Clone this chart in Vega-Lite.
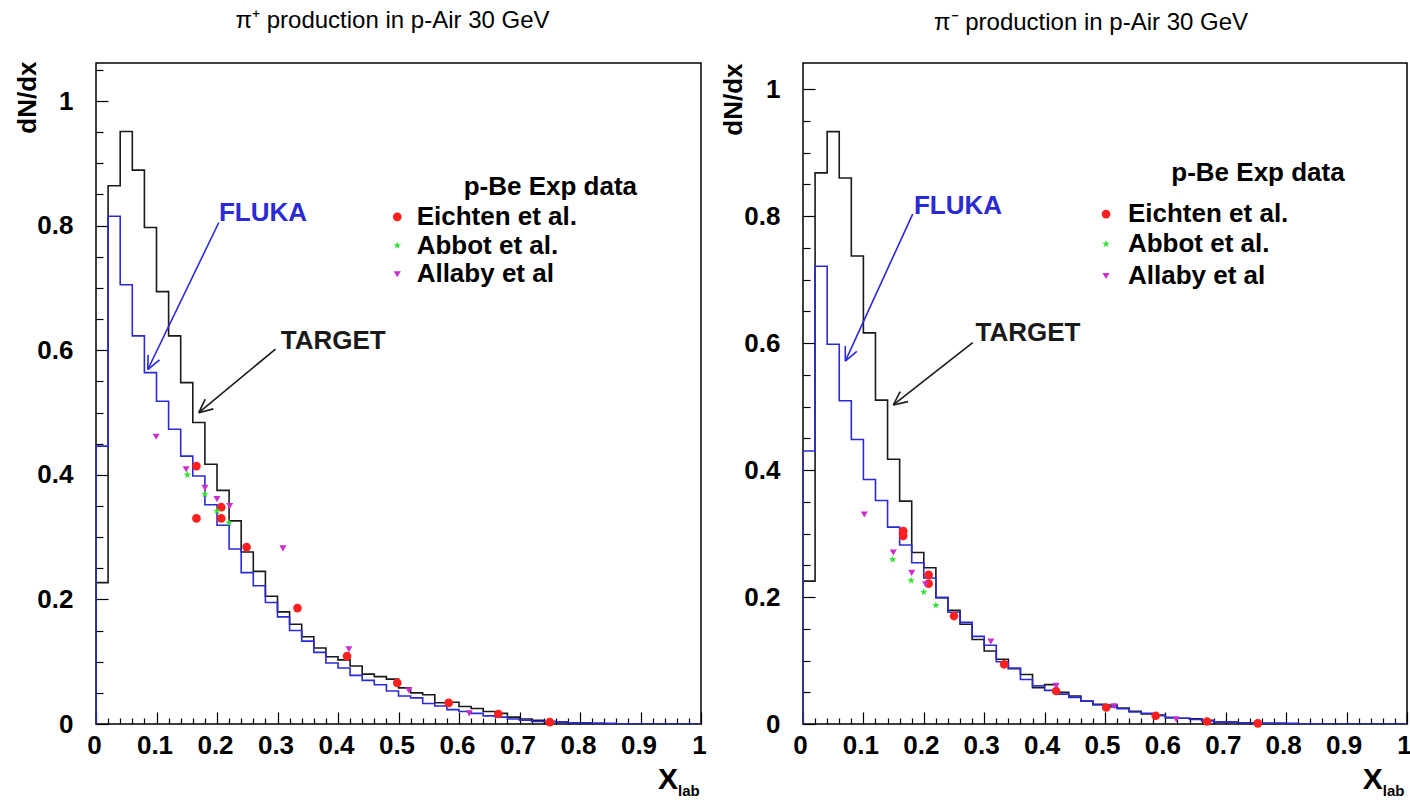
{
"$schema": "https://vega.github.io/schema/vega-lite/v6.json",
"background": "white",
"padding": {"left": 13, "top": 8, "right": 5, "bottom": 5},
"bounds": "flush",
"spacing": 102,
"config": {
  "font": "Liberation Sans",
  "view": {"stroke": "#000", "strokeWidth": 1.5},
  "axis": {"labelFont": "Liberation Sans", "labelFontWeight": "bold", "labelFontSize": 26, "labelColor": "#000", "tickColor": "#000", "tickWidth": 1.2, "grid": false, "titleFont": "Liberation Sans", "titleFontWeight": "bold", "titleFontSize": 26, "titleColor": "#000"},
  "title": {"font": "Liberation Sans", "fontSize": 24, "fontWeight": "normal", "color": "#000", "offset": 28}
},
"datasets": {
  "hist": [
    {"p":"L","s":"TARGET","x":0,"y":0},{"p":"L","s":"TARGET","x":0,"y":0.227},{"p":"L","s":"TARGET","x":0.02,"y":0.864},{"p":"L","s":"TARGET","x":0.04,"y":0.951},{"p":"L","s":"TARGET","x":0.06,"y":0.889},{"p":"L","s":"TARGET","x":0.08,"y":0.797},{"p":"L","s":"TARGET","x":0.10,"y":0.694},{"p":"L","s":"TARGET","x":0.12,"y":0.623},{"p":"L","s":"TARGET","x":0.14,"y":0.548},{"p":"L","s":"TARGET","x":0.16,"y":0.484},{"p":"L","s":"TARGET","x":0.18,"y":0.417},{"p":"L","s":"TARGET","x":0.20,"y":0.375},{"p":"L","s":"TARGET","x":0.22,"y":0.326},{"p":"L","s":"TARGET","x":0.24,"y":0.276},{"p":"L","s":"TARGET","x":0.26,"y":0.245},{"p":"L","s":"TARGET","x":0.28,"y":0.205},{"p":"L","s":"TARGET","x":0.30,"y":0.180},{"p":"L","s":"TARGET","x":0.32,"y":0.160},{"p":"L","s":"TARGET","x":0.34,"y":0.140},{"p":"L","s":"TARGET","x":0.36,"y":0.122},{"p":"L","s":"TARGET","x":0.38,"y":0.108},{"p":"L","s":"TARGET","x":0.40,"y":0.103},{"p":"L","s":"TARGET","x":0.42,"y":0.093},{"p":"L","s":"TARGET","x":0.44,"y":0.080},{"p":"L","s":"TARGET","x":0.46,"y":0.076},{"p":"L","s":"TARGET","x":0.48,"y":0.072},{"p":"L","s":"TARGET","x":0.50,"y":0.058},{"p":"L","s":"TARGET","x":0.52,"y":0.050},{"p":"L","s":"TARGET","x":0.54,"y":0.047},{"p":"L","s":"TARGET","x":0.56,"y":0.034},{"p":"L","s":"TARGET","x":0.58,"y":0.035},{"p":"L","s":"TARGET","x":0.60,"y":0.028},{"p":"L","s":"TARGET","x":0.62,"y":0.025},{"p":"L","s":"TARGET","x":0.64,"y":0.020},{"p":"L","s":"TARGET","x":0.66,"y":0.017},{"p":"L","s":"TARGET","x":0.68,"y":0.011},{"p":"L","s":"TARGET","x":0.70,"y":0.008},{"p":"L","s":"TARGET","x":0.72,"y":0.006},{"p":"L","s":"TARGET","x":0.74,"y":0.004},{"p":"L","s":"TARGET","x":0.76,"y":0.003},{"p":"L","s":"TARGET","x":0.78,"y":0.002},{"p":"L","s":"TARGET","x":0.80,"y":0.001},{"p":"L","s":"TARGET","x":0.82,"y":0.001},{"p":"L","s":"TARGET","x":0.84,"y":0.0005},{"p":"L","s":"TARGET","x":0.86,"y":0},{"p":"L","s":"TARGET","x":1,"y":0},
    {"p":"L","s":"FLUKA","x":0,"y":0},{"p":"L","s":"FLUKA","x":0,"y":0.446},{"p":"L","s":"FLUKA","x":0.02,"y":0.815},{"p":"L","s":"FLUKA","x":0.04,"y":0.705},{"p":"L","s":"FLUKA","x":0.06,"y":0.623},{"p":"L","s":"FLUKA","x":0.08,"y":0.564},{"p":"L","s":"FLUKA","x":0.10,"y":0.518},{"p":"L","s":"FLUKA","x":0.12,"y":0.473},{"p":"L","s":"FLUKA","x":0.14,"y":0.430},{"p":"L","s":"FLUKA","x":0.16,"y":0.398},{"p":"L","s":"FLUKA","x":0.18,"y":0.352},{"p":"L","s":"FLUKA","x":0.20,"y":0.319},{"p":"L","s":"FLUKA","x":0.22,"y":0.281},{"p":"L","s":"FLUKA","x":0.24,"y":0.243},{"p":"L","s":"FLUKA","x":0.26,"y":0.222},{"p":"L","s":"FLUKA","x":0.28,"y":0.195},{"p":"L","s":"FLUKA","x":0.30,"y":0.172},{"p":"L","s":"FLUKA","x":0.32,"y":0.150},{"p":"L","s":"FLUKA","x":0.34,"y":0.133},{"p":"L","s":"FLUKA","x":0.36,"y":0.115},{"p":"L","s":"FLUKA","x":0.38,"y":0.098},{"p":"L","s":"FLUKA","x":0.40,"y":0.090},{"p":"L","s":"FLUKA","x":0.42,"y":0.078},{"p":"L","s":"FLUKA","x":0.44,"y":0.070},{"p":"L","s":"FLUKA","x":0.46,"y":0.063},{"p":"L","s":"FLUKA","x":0.48,"y":0.053},{"p":"L","s":"FLUKA","x":0.50,"y":0.045},{"p":"L","s":"FLUKA","x":0.52,"y":0.042},{"p":"L","s":"FLUKA","x":0.54,"y":0.033},{"p":"L","s":"FLUKA","x":0.56,"y":0.029},{"p":"L","s":"FLUKA","x":0.58,"y":0.023},{"p":"L","s":"FLUKA","x":0.60,"y":0.020},{"p":"L","s":"FLUKA","x":0.62,"y":0.017},{"p":"L","s":"FLUKA","x":0.64,"y":0.013},{"p":"L","s":"FLUKA","x":0.66,"y":0.011},{"p":"L","s":"FLUKA","x":0.68,"y":0.008},{"p":"L","s":"FLUKA","x":0.70,"y":0.006},{"p":"L","s":"FLUKA","x":0.72,"y":0.004},{"p":"L","s":"FLUKA","x":0.74,"y":0.004},{"p":"L","s":"FLUKA","x":0.76,"y":0.003},{"p":"L","s":"FLUKA","x":0.78,"y":0.002},{"p":"L","s":"FLUKA","x":0.80,"y":0.002},{"p":"L","s":"FLUKA","x":0.82,"y":0.001},{"p":"L","s":"FLUKA","x":0.84,"y":0.001},{"p":"L","s":"FLUKA","x":0.86,"y":0.0005},{"p":"L","s":"FLUKA","x":0.88,"y":0},{"p":"L","s":"FLUKA","x":1,"y":0},
    {"p":"R","s":"TARGET","x":0,"y":0},{"p":"R","s":"TARGET","x":0,"y":0.225},{"p":"R","s":"TARGET","x":0.02,"y":0.868},{"p":"R","s":"TARGET","x":0.04,"y":0.933},{"p":"R","s":"TARGET","x":0.06,"y":0.860},{"p":"R","s":"TARGET","x":0.08,"y":0.737},{"p":"R","s":"TARGET","x":0.10,"y":0.616},{"p":"R","s":"TARGET","x":0.12,"y":0.510},{"p":"R","s":"TARGET","x":0.14,"y":0.417},{"p":"R","s":"TARGET","x":0.16,"y":0.351},{"p":"R","s":"TARGET","x":0.18,"y":0.270},{"p":"R","s":"TARGET","x":0.20,"y":0.246},{"p":"R","s":"TARGET","x":0.22,"y":0.199},{"p":"R","s":"TARGET","x":0.24,"y":0.179},{"p":"R","s":"TARGET","x":0.26,"y":0.157},{"p":"R","s":"TARGET","x":0.28,"y":0.133},{"p":"R","s":"TARGET","x":0.30,"y":0.115},{"p":"R","s":"TARGET","x":0.32,"y":0.102},{"p":"R","s":"TARGET","x":0.34,"y":0.087},{"p":"R","s":"TARGET","x":0.36,"y":0.078},{"p":"R","s":"TARGET","x":0.38,"y":0.057},{"p":"R","s":"TARGET","x":0.40,"y":0.062},{"p":"R","s":"TARGET","x":0.42,"y":0.050},{"p":"R","s":"TARGET","x":0.44,"y":0.044},{"p":"R","s":"TARGET","x":0.46,"y":0.036},{"p":"R","s":"TARGET","x":0.48,"y":0.031},{"p":"R","s":"TARGET","x":0.50,"y":0.030},{"p":"R","s":"TARGET","x":0.52,"y":0.025},{"p":"R","s":"TARGET","x":0.54,"y":0.020},{"p":"R","s":"TARGET","x":0.56,"y":0.016},{"p":"R","s":"TARGET","x":0.58,"y":0.014},{"p":"R","s":"TARGET","x":0.60,"y":0.010},{"p":"R","s":"TARGET","x":0.62,"y":0.009},{"p":"R","s":"TARGET","x":0.64,"y":0.008},{"p":"R","s":"TARGET","x":0.66,"y":0.006},{"p":"R","s":"TARGET","x":0.68,"y":0.003},{"p":"R","s":"TARGET","x":0.70,"y":0.003},{"p":"R","s":"TARGET","x":0.72,"y":0.002},{"p":"R","s":"TARGET","x":0.74,"y":0.002},{"p":"R","s":"TARGET","x":0.76,"y":0.001},{"p":"R","s":"TARGET","x":0.78,"y":0.001},{"p":"R","s":"TARGET","x":0.80,"y":0.0005},{"p":"R","s":"TARGET","x":0.82,"y":0.0005},{"p":"R","s":"TARGET","x":0.84,"y":0},{"p":"R","s":"TARGET","x":1,"y":0},
    {"p":"R","s":"FLUKA","x":0,"y":0},{"p":"R","s":"FLUKA","x":0,"y":0.430},{"p":"R","s":"FLUKA","x":0.02,"y":0.721},{"p":"R","s":"FLUKA","x":0.04,"y":0.598},{"p":"R","s":"FLUKA","x":0.06,"y":0.509},{"p":"R","s":"FLUKA","x":0.08,"y":0.448},{"p":"R","s":"FLUKA","x":0.10,"y":0.385},{"p":"R","s":"FLUKA","x":0.12,"y":0.352},{"p":"R","s":"FLUKA","x":0.14,"y":0.310},{"p":"R","s":"FLUKA","x":0.16,"y":0.282},{"p":"R","s":"FLUKA","x":0.18,"y":0.254},{"p":"R","s":"FLUKA","x":0.20,"y":0.230},{"p":"R","s":"FLUKA","x":0.22,"y":0.199},{"p":"R","s":"FLUKA","x":0.24,"y":0.176},{"p":"R","s":"FLUKA","x":0.26,"y":0.160},{"p":"R","s":"FLUKA","x":0.28,"y":0.138},{"p":"R","s":"FLUKA","x":0.30,"y":0.124},{"p":"R","s":"FLUKA","x":0.32,"y":0.098},{"p":"R","s":"FLUKA","x":0.34,"y":0.088},{"p":"R","s":"FLUKA","x":0.36,"y":0.070},{"p":"R","s":"FLUKA","x":0.38,"y":0.060},{"p":"R","s":"FLUKA","x":0.40,"y":0.053},{"p":"R","s":"FLUKA","x":0.42,"y":0.047},{"p":"R","s":"FLUKA","x":0.44,"y":0.042},{"p":"R","s":"FLUKA","x":0.46,"y":0.036},{"p":"R","s":"FLUKA","x":0.48,"y":0.030},{"p":"R","s":"FLUKA","x":0.50,"y":0.027},{"p":"R","s":"FLUKA","x":0.52,"y":0.024},{"p":"R","s":"FLUKA","x":0.54,"y":0.019},{"p":"R","s":"FLUKA","x":0.56,"y":0.017},{"p":"R","s":"FLUKA","x":0.58,"y":0.013},{"p":"R","s":"FLUKA","x":0.60,"y":0.010},{"p":"R","s":"FLUKA","x":0.62,"y":0.009},{"p":"R","s":"FLUKA","x":0.64,"y":0.007},{"p":"R","s":"FLUKA","x":0.66,"y":0.005},{"p":"R","s":"FLUKA","x":0.68,"y":0.003},{"p":"R","s":"FLUKA","x":0.70,"y":0.003},{"p":"R","s":"FLUKA","x":0.72,"y":0.002},{"p":"R","s":"FLUKA","x":0.74,"y":0.002},{"p":"R","s":"FLUKA","x":0.76,"y":0.001},{"p":"R","s":"FLUKA","x":0.78,"y":0.001},{"p":"R","s":"FLUKA","x":0.80,"y":0.001},{"p":"R","s":"FLUKA","x":0.82,"y":0.0005},{"p":"R","s":"FLUKA","x":0.84,"y":0.0005},{"p":"R","s":"FLUKA","x":0.86,"y":0},{"p":"R","s":"FLUKA","x":1,"y":0}
  ],
  "pts": [
    {"p":"L","s":"Eichten et al.","x":0.166,"y":0.414},{"p":"L","s":"Eichten et al.","x":0.166,"y":0.330},{"p":"L","s":"Eichten et al.","x":0.207,"y":0.348},{"p":"L","s":"Eichten et al.","x":0.207,"y":0.330},{"p":"L","s":"Eichten et al.","x":0.249,"y":0.284},{"p":"L","s":"Eichten et al.","x":0.333,"y":0.186},{"p":"L","s":"Eichten et al.","x":0.415,"y":0.109},{"p":"L","s":"Eichten et al.","x":0.498,"y":0.066},{"p":"L","s":"Eichten et al.","x":0.583,"y":0.034},{"p":"L","s":"Eichten et al.","x":0.665,"y":0.016},{"p":"L","s":"Eichten et al.","x":0.75,"y":0.003},
    {"p":"L","s":"Abbot et al.","x":0.151,"y":0.400},{"p":"L","s":"Abbot et al.","x":0.18,"y":0.369},{"p":"L","s":"Abbot et al.","x":0.2,"y":0.342},{"p":"L","s":"Abbot et al.","x":0.22,"y":0.323},
    {"p":"L","s":"Allaby et al","x":0.0995,"y":0.461},{"p":"L","s":"Allaby et al","x":0.149,"y":0.409},{"p":"L","s":"Allaby et al","x":0.18,"y":0.379},{"p":"L","s":"Allaby et al","x":0.2,"y":0.361},{"p":"L","s":"Allaby et al","x":0.221,"y":0.35},{"p":"L","s":"Allaby et al","x":0.309,"y":0.282},{"p":"L","s":"Allaby et al","x":0.418,"y":0.12},{"p":"L","s":"Allaby et al","x":0.517,"y":0.054},{"p":"L","s":"Allaby et al","x":0.617,"y":0.017},
    {"p":"R","s":"Eichten et al.","x":0.166,"y":0.304},{"p":"R","s":"Eichten et al.","x":0.166,"y":0.296},{"p":"R","s":"Eichten et al.","x":0.208,"y":0.235},{"p":"R","s":"Eichten et al.","x":0.208,"y":0.221},{"p":"R","s":"Eichten et al.","x":0.25,"y":0.170},{"p":"R","s":"Eichten et al.","x":0.333,"y":0.094},{"p":"R","s":"Eichten et al.","x":0.419,"y":0.052},{"p":"R","s":"Eichten et al.","x":0.502,"y":0.026},{"p":"R","s":"Eichten et al.","x":0.584,"y":0.013},{"p":"R","s":"Eichten et al.","x":0.669,"y":0.004},{"p":"R","s":"Eichten et al.","x":0.753,"y":0.001},
    {"p":"R","s":"Abbot et al.","x":0.1485,"y":0.259},{"p":"R","s":"Abbot et al.","x":0.179,"y":0.226},{"p":"R","s":"Abbot et al.","x":0.2,"y":0.208},{"p":"R","s":"Abbot et al.","x":0.22,"y":0.187},
    {"p":"R","s":"Allaby et al","x":0.1015,"y":0.33},{"p":"R","s":"Allaby et al","x":0.1495,"y":0.27},{"p":"R","s":"Allaby et al","x":0.18,"y":0.238},{"p":"R","s":"Allaby et al","x":0.203,"y":0.22},{"p":"R","s":"Allaby et al","x":0.311,"y":0.13},{"p":"R","s":"Allaby et al","x":0.419,"y":0.06},{"p":"R","s":"Allaby et al","x":0.515,"y":0.028},{"p":"R","s":"Allaby et al","x":0.618,"y":0.007}
  ],
  "arrows": [
    {"p":"L","s":"FLUKA","x":0.203,"y":0.805,"x2":0.0856,"y2":0.569},{"p":"L","s":"FLUKA","x":0.0856,"y":0.569,"x2":0.0862,"y2":0.5927},{"p":"L","s":"FLUKA","x":0.0856,"y":0.569,"x2":0.105,"y2":0.5846},
    {"p":"L","s":"TARGET","x":0.2967,"y":0.6019,"x2":0.1699,"y2":0.4997},{"p":"L","s":"TARGET","x":0.1699,"y":0.4997,"x2":0.1939,"y2":0.5058},{"p":"L","s":"TARGET","x":0.1699,"y":0.4997,"x2":0.1805,"y2":0.5215},
    {"p":"R","s":"FLUKA","x":0.1816,"y":0.8031,"x2":0.0701,"y2":0.5716},{"p":"R","s":"FLUKA","x":0.0701,"y":0.5716,"x2":0.0891,"y2":0.5868},{"p":"R","s":"FLUKA","x":0.0701,"y":0.5716,"x2":0.0700,"y2":0.5953},
    {"p":"R","s":"TARGET","x":0.2810,"y":0.6005,"x2":0.1495,"y2":0.5024},{"p":"R","s":"TARGET","x":0.1495,"y":0.5024,"x2":0.1737,"y2":0.5077},{"p":"R","s":"TARGET","x":0.1495,"y":0.5024,"x2":0.1608,"y2":0.5235}
  ],
  "notes": [
    {"p":"L","k":"lab","s":"FLUKA","t":"FLUKA","x":0.276,"y":0.820},
    {"p":"L","k":"lab","s":"TARGET","t":"TARGET","x":0.392,"y":0.615},
    {"p":"L","k":"head","t":"p-Be Exp data","x":0.751,"y":0.862},
    {"p":"L","k":"entry","t":"Eichten et al.","x":0.530,"y":0.814},
    {"p":"L","k":"entry","t":"Abbot et al.","x":0.530,"y":0.768},
    {"p":"L","k":"entry","t":"Allaby et al","x":0.530,"y":0.722},
    {"p":"L","k":"mark","s":"Eichten et al.","x":0.498,"y":0.814},
    {"p":"L","k":"mark","s":"Abbot et al.","x":0.498,"y":0.768},
    {"p":"L","k":"mark","s":"Allaby et al","x":0.498,"y":0.722},
    {"p":"L","k":"X","t":"X","x":0.962,"y":-0.0899},
    {"p":"L","k":"sub","t":"lab","x":0.962,"y":-0.1075},
    {"p":"R","k":"lab","s":"FLUKA","t":"FLUKA","x":0.2566,"y":0.8157},
    {"p":"R","k":"lab","s":"TARGET","t":"TARGET","x":0.3725,"y":0.6157},
    {"p":"R","k":"head","t":"p-Be Exp data","x":0.7533,"y":0.8677},
    {"p":"R","k":"entry","t":"Eichten et al.","x":0.538,"y":0.803},
    {"p":"R","k":"entry","t":"Abbot et al.","x":0.538,"y":0.756},
    {"p":"R","k":"entry","t":"Allaby et al","x":0.538,"y":0.7055},
    {"p":"R","k":"mark","s":"Eichten et al.","x":0.5017,"y":0.803},
    {"p":"R","k":"mark","s":"Abbot et al.","x":0.5017,"y":0.756},
    {"p":"R","k":"mark","s":"Allaby et al","x":0.5017,"y":0.7055},
    {"p":"R","k":"X","t":"X","x":0.960,"y":-0.0882},
    {"p":"R","k":"sub","t":"lab","x":0.960,"y":-0.1055}
  ]
},
"hconcat": [
  {
    "width": 605, "height": 661,
    "title": {"text": "π⁺ production in p-Air 30 GeV", "dx": -6},
    "resolve": {"axis": {"x": "independent", "y": "independent"}},
    "layer": [
      {"data": {"name": "hist"}, "transform": [{"filter": "datum.p == 'L'"}],
       "mark": {"type": "line", "interpolate": "step-after", "strokeWidth": 1.6, "clip": true},
       "encoding": {
         "x": {"field": "x", "type": "quantitative", "scale": {"domain": [0, 1], "nice": false}, "axis": {"orient": "bottom", "values": [0,0.1,0.2,0.3,0.4,0.5,0.6,0.7,0.8,0.9,1], "format": "~g", "title": null, "domain": false, "ticks": false, "labelPadding": 8, "labelOffset": -2, "labelFlush": false, "labelOverlap": false}},
         "y": {"field": "y", "type": "quantitative", "scale": {"domain": [0, 1.061], "nice": false}, "axis": {"orient": "left", "values": [0,0.2,0.4,0.6,0.8,1], "format": "~g", "title": "dN/dx", "titleX": -69, "titleY": -2, "titleAngle": -90, "titleAlign": "right", "titleBaseline": "middle", "domain": false, "ticks": false, "labelPadding": 23, "labelFlush": false, "labelOverlap": false}},
         "color": {"field": "s", "type": "nominal", "scale": {"domain": ["TARGET","FLUKA","Eichten et al.","Abbot et al.","Allaby et al"], "range": ["#1a1a1a","#2b2bd6","#ff1f1f","#33e033","#cc2ecc"]}, "legend": null}
       }},
      {"data": {"name": "pts"}, "transform": [{"filter": "datum.p == 'L'"}],
       "mark": {"type": "point", "filled": true, "opacity": 1},
       "encoding": {
         "x": {"field": "x", "type": "quantitative", "scale": {"domain": [0, 1], "nice": false}, "axis": {"orient": "top", "offset": -661, "values": [0,0.1,0.2,0.3,0.4,0.5,0.6,0.7,0.8,0.9,1], "labels": false, "title": null, "domain": false, "tickSize": 12}},
         "y": {"field": "y", "type": "quantitative", "scale": {"domain": [0, 1.061], "nice": false}, "axis": {"orient": "right", "offset": -605, "values": [0,0.2,0.4,0.6,0.8,1], "labels": false, "title": null, "domain": false, "tickSize": 12}},
         "color": {"field": "s", "type": "nominal", "scale": {"domain": ["TARGET","FLUKA","Eichten et al.","Abbot et al.","Allaby et al"], "range": ["#1a1a1a","#2b2bd6","#ff1f1f","#33e033","#cc2ecc"]}, "legend": null},
         "shape": {"field": "s", "type": "nominal", "scale": {"domain": ["Eichten et al.","Abbot et al.","Allaby et al"], "range": ["circle", "M0,-1L0.235,-0.324L0.951,-0.309L0.38,0.124L0.588,0.809L0,0.4L-0.588,0.809L-0.38,0.124L-0.951,-0.309L-0.235,-0.324Z", "triangle-down"]}, "legend": null},
         "size": {"field": "s", "type": "nominal", "scale": {"domain": ["Eichten et al.","Abbot et al.","Allaby et al"], "range": [75, 50, 55]}, "legend": null}
       }},
      {"data": {"name": "notes"}, "transform": [{"filter": "datum.p == 'L' && datum.k == 'mark'"}],
       "mark": {"type": "point", "filled": true, "opacity": 1},
       "encoding": {
         "x": {"field": "x", "type": "quantitative", "scale": {"domain": [0, 1], "nice": false}, "axis": {"orient": "top", "offset": -661, "values": [0.02,0.04,0.06,0.08,0.12,0.14,0.16,0.18,0.22,0.24,0.26,0.28,0.32,0.34,0.36,0.38,0.42,0.44,0.46,0.48,0.52,0.54,0.56,0.58,0.62,0.64,0.66,0.68,0.72,0.74,0.76,0.78,0.82,0.84,0.86,0.88,0.92,0.94,0.96,0.98], "labels": false, "title": null, "domain": false, "tickSize": 6}},
         "y": {"field": "y", "type": "quantitative", "scale": {"domain": [0, 1.061], "nice": false}, "axis": {"orient": "right", "offset": -605, "values": [0.05,0.1,0.15,0.25,0.3,0.35,0.45,0.5,0.55,0.65,0.7,0.75,0.85,0.9,0.95,1.05], "labels": false, "title": null, "domain": false, "tickSize": 7}},
         "color": {"field": "s", "type": "nominal", "scale": {"domain": ["TARGET","FLUKA","Eichten et al.","Abbot et al.","Allaby et al"], "range": ["#1a1a1a","#2b2bd6","#ff1f1f","#33e033","#cc2ecc"]}, "legend": null},
         "shape": {"field": "s", "type": "nominal", "scale": {"domain": ["Eichten et al.","Abbot et al.","Allaby et al"], "range": ["circle", "M0,-1L0.235,-0.324L0.951,-0.309L0.38,0.124L0.588,0.809L0,0.4L-0.588,0.809L-0.38,0.124L-0.951,-0.309L-0.235,-0.324Z", "triangle-down"]}, "legend": null},
         "size": {"field": "s", "type": "nominal", "scale": {"domain": ["Eichten et al.","Abbot et al.","Allaby et al"], "range": [75, 50, 55]}, "legend": null}
       }},
      {"data": {"name": "arrows"}, "transform": [{"filter": "datum.p == 'L'"}],
       "mark": {"type": "rule", "strokeWidth": 1.6},
       "encoding": {
         "x": {"field": "x", "type": "quantitative", "scale": {"domain": [0, 1], "nice": false}, "axis": null},
         "y": {"field": "y", "type": "quantitative", "scale": {"domain": [0, 1.061], "nice": false}, "axis": null},
         "x2": {"field": "x2"}, "y2": {"field": "y2"},
         "color": {"field": "s", "type": "nominal", "scale": {"domain": ["TARGET","FLUKA","Eichten et al.","Abbot et al.","Allaby et al"], "range": ["#1a1a1a","#2b2bd6","#ff1f1f","#33e033","#cc2ecc"]}, "legend": null}
       }},
      {"data": {"name": "notes"}, "transform": [{"filter": "datum.p == 'L' && datum.k == 'lab'"}],
       "mark": {"type": "text", "fontWeight": "bold", "fontSize": 26, "align": "center", "baseline": "middle"},
       "encoding": {
         "x": {"field": "x", "type": "quantitative", "scale": {"domain": [0, 1], "nice": false}, "axis": null},
         "y": {"field": "y", "type": "quantitative", "scale": {"domain": [0, 1.061], "nice": false}, "axis": null},
         "text": {"field": "t"},
         "color": {"field": "s", "type": "nominal", "scale": {"domain": ["TARGET","FLUKA","Eichten et al.","Abbot et al.","Allaby et al"], "range": ["#1a1a1a","#2b2bd6","#ff1f1f","#33e033","#cc2ecc"]}, "legend": null}
       }},
      {"data": {"name": "notes"}, "transform": [{"filter": "datum.p == 'L' && datum.k == 'head'"}],
       "mark": {"type": "text", "fontWeight": "bold", "fontSize": 26, "align": "center", "baseline": "middle", "color": "#000"},
       "encoding": {
         "x": {"field": "x", "type": "quantitative", "scale": {"domain": [0, 1], "nice": false}, "axis": null},
         "y": {"field": "y", "type": "quantitative", "scale": {"domain": [0, 1.061], "nice": false}, "axis": null},
         "text": {"field": "t"}
       }},
      {"data": {"name": "notes"}, "transform": [{"filter": "datum.p == 'L' && datum.k == 'entry'"}],
       "mark": {"type": "text", "fontWeight": "bold", "fontSize": 26, "align": "left", "baseline": "middle", "color": "#000"},
       "encoding": {
         "x": {"field": "x", "type": "quantitative", "scale": {"domain": [0, 1], "nice": false}, "axis": null},
         "y": {"field": "y", "type": "quantitative", "scale": {"domain": [0, 1.061], "nice": false}, "axis": null},
         "text": {"field": "t"}
       }},
      {"data": {"name": "notes"}, "transform": [{"filter": "datum.p == 'L' && datum.k == 'X'"}],
       "mark": {"type": "text", "fontWeight": "bold", "fontSize": 30, "align": "right", "baseline": "middle", "color": "#000"},
       "encoding": {
         "x": {"field": "x", "type": "quantitative", "scale": {"domain": [0, 1], "nice": false}, "axis": null},
         "y": {"field": "y", "type": "quantitative", "scale": {"domain": [0, 1.061], "nice": false}, "axis": null},
         "text": {"field": "t"}
       }},
      {"data": {"name": "notes"}, "transform": [{"filter": "datum.p == 'L' && datum.k == 'sub'"}],
       "mark": {"type": "text", "fontWeight": "bold", "fontSize": 15, "align": "left", "baseline": "middle", "color": "#000"},
       "encoding": {
         "x": {"field": "x", "type": "quantitative", "scale": {"domain": [0, 1], "nice": false}, "axis": null},
         "y": {"field": "y", "type": "quantitative", "scale": {"domain": [0, 1.061], "nice": false}, "axis": null},
         "text": {"field": "t"}
       }}
    ]
  },
  {
    "width": 604, "height": 661,
    "title": {"text": "π⁻ production in p-Air 30 GeV", "dx": -14},
    "resolve": {"axis": {"x": "independent", "y": "independent"}},
    "layer": [
      {"data": {"name": "hist"}, "transform": [{"filter": "datum.p == 'R'"}],
       "mark": {"type": "line", "interpolate": "step-after", "strokeWidth": 1.6, "clip": true},
       "encoding": {
         "x": {"field": "x", "type": "quantitative", "scale": {"domain": [0, 1], "nice": false}, "axis": {"orient": "bottom", "values": [0,0.1,0.2,0.3,0.4,0.5,0.6,0.7,0.8,0.9,1], "format": "~g", "title": null, "domain": false, "ticks": false, "labelPadding": 8, "labelOffset": -3, "labelFlush": false, "labelOverlap": false}},
         "y": {"field": "y", "type": "quantitative", "scale": {"domain": [0, 1.041], "nice": false}, "axis": {"orient": "left", "values": [0,0.2,0.4,0.6,0.8,1], "format": "~g", "title": "dN/dx", "titleX": -70, "titleY": 0, "titleAngle": -90, "titleAlign": "right", "titleBaseline": "middle", "domain": false, "ticks": false, "labelPadding": 23, "labelFlush": false, "labelOverlap": false}},
         "color": {"field": "s", "type": "nominal", "scale": {"domain": ["TARGET","FLUKA","Eichten et al.","Abbot et al.","Allaby et al"], "range": ["#1a1a1a","#2b2bd6","#ff1f1f","#33e033","#cc2ecc"]}, "legend": null}
       }},
      {"data": {"name": "pts"}, "transform": [{"filter": "datum.p == 'R'"}],
       "mark": {"type": "point", "filled": true, "opacity": 1},
       "encoding": {
         "x": {"field": "x", "type": "quantitative", "scale": {"domain": [0, 1], "nice": false}, "axis": {"orient": "top", "offset": -661, "values": [0,0.1,0.2,0.3,0.4,0.5,0.6,0.7,0.8,0.9,1], "labels": false, "title": null, "domain": false, "tickSize": 12}},
         "y": {"field": "y", "type": "quantitative", "scale": {"domain": [0, 1.041], "nice": false}, "axis": {"orient": "right", "offset": -604, "values": [0,0.2,0.4,0.6,0.8,1], "labels": false, "title": null, "domain": false, "tickSize": 12}},
         "color": {"field": "s", "type": "nominal", "scale": {"domain": ["TARGET","FLUKA","Eichten et al.","Abbot et al.","Allaby et al"], "range": ["#1a1a1a","#2b2bd6","#ff1f1f","#33e033","#cc2ecc"]}, "legend": null},
         "shape": {"field": "s", "type": "nominal", "scale": {"domain": ["Eichten et al.","Abbot et al.","Allaby et al"], "range": ["circle", "M0,-1L0.235,-0.324L0.951,-0.309L0.38,0.124L0.588,0.809L0,0.4L-0.588,0.809L-0.38,0.124L-0.951,-0.309L-0.235,-0.324Z", "triangle-down"]}, "legend": null},
         "size": {"field": "s", "type": "nominal", "scale": {"domain": ["Eichten et al.","Abbot et al.","Allaby et al"], "range": [75, 50, 55]}, "legend": null}
       }},
      {"data": {"name": "notes"}, "transform": [{"filter": "datum.p == 'R' && datum.k == 'mark'"}],
       "mark": {"type": "point", "filled": true, "opacity": 1},
       "encoding": {
         "x": {"field": "x", "type": "quantitative", "scale": {"domain": [0, 1], "nice": false}, "axis": {"orient": "top", "offset": -661, "values": [0.02,0.04,0.06,0.08,0.12,0.14,0.16,0.18,0.22,0.24,0.26,0.28,0.32,0.34,0.36,0.38,0.42,0.44,0.46,0.48,0.52,0.54,0.56,0.58,0.62,0.64,0.66,0.68,0.72,0.74,0.76,0.78,0.82,0.84,0.86,0.88,0.92,0.94,0.96,0.98], "labels": false, "title": null, "domain": false, "tickSize": 6}},
         "y": {"field": "y", "type": "quantitative", "scale": {"domain": [0, 1.041], "nice": false}, "axis": {"orient": "right", "offset": -604, "values": [0.05,0.1,0.15,0.25,0.3,0.35,0.45,0.5,0.55,0.65,0.7,0.75,0.85,0.9,0.95], "labels": false, "title": null, "domain": false, "tickSize": 7}},
         "color": {"field": "s", "type": "nominal", "scale": {"domain": ["TARGET","FLUKA","Eichten et al.","Abbot et al.","Allaby et al"], "range": ["#1a1a1a","#2b2bd6","#ff1f1f","#33e033","#cc2ecc"]}, "legend": null},
         "shape": {"field": "s", "type": "nominal", "scale": {"domain": ["Eichten et al.","Abbot et al.","Allaby et al"], "range": ["circle", "M0,-1L0.235,-0.324L0.951,-0.309L0.38,0.124L0.588,0.809L0,0.4L-0.588,0.809L-0.38,0.124L-0.951,-0.309L-0.235,-0.324Z", "triangle-down"]}, "legend": null},
         "size": {"field": "s", "type": "nominal", "scale": {"domain": ["Eichten et al.","Abbot et al.","Allaby et al"], "range": [75, 50, 55]}, "legend": null}
       }},
      {"data": {"name": "arrows"}, "transform": [{"filter": "datum.p == 'R'"}],
       "mark": {"type": "rule", "strokeWidth": 1.6},
       "encoding": {
         "x": {"field": "x", "type": "quantitative", "scale": {"domain": [0, 1], "nice": false}, "axis": null},
         "y": {"field": "y", "type": "quantitative", "scale": {"domain": [0, 1.041], "nice": false}, "axis": null},
         "x2": {"field": "x2"}, "y2": {"field": "y2"},
         "color": {"field": "s", "type": "nominal", "scale": {"domain": ["TARGET","FLUKA","Eichten et al.","Abbot et al.","Allaby et al"], "range": ["#1a1a1a","#2b2bd6","#ff1f1f","#33e033","#cc2ecc"]}, "legend": null}
       }},
      {"data": {"name": "notes"}, "transform": [{"filter": "datum.p == 'R' && datum.k == 'lab'"}],
       "mark": {"type": "text", "fontWeight": "bold", "fontSize": 26, "align": "center", "baseline": "middle"},
       "encoding": {
         "x": {"field": "x", "type": "quantitative", "scale": {"domain": [0, 1], "nice": false}, "axis": null},
         "y": {"field": "y", "type": "quantitative", "scale": {"domain": [0, 1.041], "nice": false}, "axis": null},
         "text": {"field": "t"},
         "color": {"field": "s", "type": "nominal", "scale": {"domain": ["TARGET","FLUKA","Eichten et al.","Abbot et al.","Allaby et al"], "range": ["#1a1a1a","#2b2bd6","#ff1f1f","#33e033","#cc2ecc"]}, "legend": null}
       }},
      {"data": {"name": "notes"}, "transform": [{"filter": "datum.p == 'R' && datum.k == 'head'"}],
       "mark": {"type": "text", "fontWeight": "bold", "fontSize": 26, "align": "center", "baseline": "middle", "color": "#000"},
       "encoding": {
         "x": {"field": "x", "type": "quantitative", "scale": {"domain": [0, 1], "nice": false}, "axis": null},
         "y": {"field": "y", "type": "quantitative", "scale": {"domain": [0, 1.041], "nice": false}, "axis": null},
         "text": {"field": "t"}
       }},
      {"data": {"name": "notes"}, "transform": [{"filter": "datum.p == 'R' && datum.k == 'entry'"}],
       "mark": {"type": "text", "fontWeight": "bold", "fontSize": 26, "align": "left", "baseline": "middle", "color": "#000"},
       "encoding": {
         "x": {"field": "x", "type": "quantitative", "scale": {"domain": [0, 1], "nice": false}, "axis": null},
         "y": {"field": "y", "type": "quantitative", "scale": {"domain": [0, 1.041], "nice": false}, "axis": null},
         "text": {"field": "t"}
       }},
      {"data": {"name": "notes"}, "transform": [{"filter": "datum.p == 'R' && datum.k == 'X'"}],
       "mark": {"type": "text", "fontWeight": "bold", "fontSize": 30, "align": "right", "baseline": "middle", "color": "#000"},
       "encoding": {
         "x": {"field": "x", "type": "quantitative", "scale": {"domain": [0, 1], "nice": false}, "axis": null},
         "y": {"field": "y", "type": "quantitative", "scale": {"domain": [0, 1.041], "nice": false}, "axis": null},
         "text": {"field": "t"}
       }},
      {"data": {"name": "notes"}, "transform": [{"filter": "datum.p == 'R' && datum.k == 'sub'"}],
       "mark": {"type": "text", "fontWeight": "bold", "fontSize": 15, "align": "left", "baseline": "middle", "color": "#000"},
       "encoding": {
         "x": {"field": "x", "type": "quantitative", "scale": {"domain": [0, 1], "nice": false}, "axis": null},
         "y": {"field": "y", "type": "quantitative", "scale": {"domain": [0, 1.041], "nice": false}, "axis": null},
         "text": {"field": "t"}
       }}
    ]
  }
]
}
